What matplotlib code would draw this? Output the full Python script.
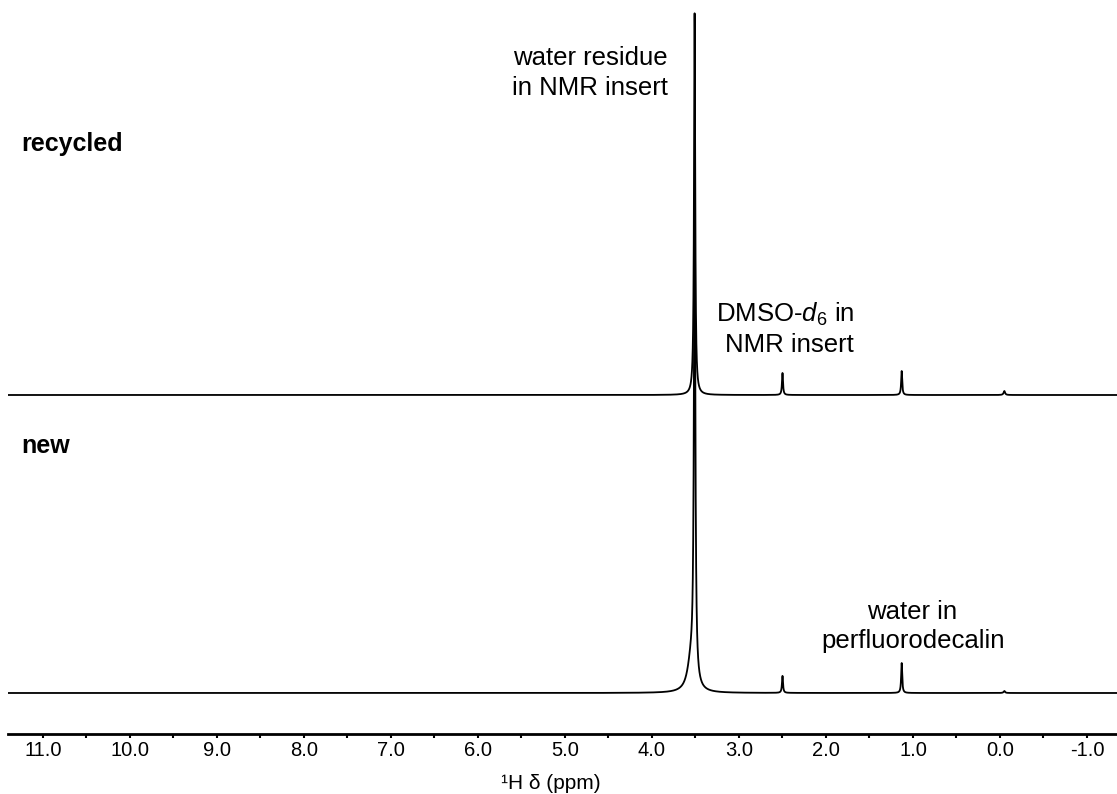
import numpy as np
import matplotlib
matplotlib.use("Agg")
import matplotlib.pyplot as plt

plt.rcParams['font.family'] = ['Liberation Sans', 'DejaVu Sans']
plt.rcParams['mathtext.fontset'] = 'custom'
plt.rcParams['mathtext.rm'] = 'Liberation Sans'
plt.rcParams['mathtext.it'] = 'Liberation Sans:italic'
plt.rcParams['mathtext.bf'] = 'Liberation Sans:bold'

# ---- data (peak lists) ----
spectrum_names = ["recycled", "new"]
recycled_offset = 339
new_offset = 41

recycled_ppm = [3.51, 2.50, 1.13, -0.05]
recycled_height = [382, 22, 24, 4]
recycled_hwhm = [0.008, 0.007, 0.007, 0.01]

new_ppm = [3.51, 3.55, 2.50, 1.13, -0.05]
new_height = [470, 30, 17, 30, 2]
new_hwhm = [0.010, 0.05, 0.007, 0.007, 0.01]

tick_major = [11.0, 10.0, 9.0, 8.0, 7.0, 6.0, 5.0, 4.0, 3.0, 2.0, 1.0, 0.0, -1.0]
x_label = "\u00b9H \u03b4 (ppm)"

annot_water_residue = ["water residue", "in NMR insert"]
annot_dmso = ["DMSO-$d_6$ in", "NMR insert"]
annot_water_pfd = ["water in", "perfluorodecalin"]

# ---- build spectra ----
ppm = np.linspace(11.45, -1.4, 20000)


def spectrum(pos, h, w, off):
    y = np.zeros_like(ppm)
    for p, a, g in zip(pos, h, w):
        y += a * g ** 2 / ((ppm - p) ** 2 + g ** 2)
    return y + off


y_rec = spectrum(recycled_ppm, recycled_height, recycled_hwhm, recycled_offset)
y_new = spectrum(new_ppm, new_height, new_hwhm, new_offset)

W, H = 1117, 794
AX_BOT_PX = 734
fig = plt.figure(figsize=(W / 100, H / 100), dpi=100)
ax = fig.add_axes([8 / W, (H - AX_BOT_PX) / H, 1109 / W, AX_BOT_PX / H])

ax.plot(ppm, y_new, color='black', lw=1.3, solid_joinstyle='round')
ax.plot(ppm, y_rec, color='black', lw=1.3, solid_joinstyle='round')

ax.set_xlim(11.402, -1.345)
ax.set_ylim(0, AX_BOT_PX)

for s in ['top', 'left', 'right']:
    ax.spines[s].set_visible(False)
ax.spines['bottom'].set_linewidth(2.0)
ax.set_yticks([])
ax.set_xticks(tick_major)
ax.set_xticklabels([f"{t:.1f}" for t in tick_major])
ax.set_xticks(np.arange(-1.0, 11.01, 0.5), minor=True)
ax.tick_params(axis='x', which='both', direction='out', length=3, width=1.5,
               labelsize=14.5, pad=2)
ax.set_xlabel(x_label, fontsize=15)
ax.xaxis.set_label_coords((551 - 8) / 1109, -(774 - AX_BOT_PX) / AX_BOT_PX)


def px2ppm(px):
    return 11.0 - (px - 43) / 87.0


def py2y(py):
    return AX_BOT_PX - py


fs = 18.5
ax.text(px2ppm(21), py2y(151), spectrum_names[0], fontsize=18, fontweight='bold',
        ha='left', va='baseline')
ax.text(px2ppm(21), py2y(453), spectrum_names[1], fontsize=18, fontweight='bold',
        ha='left', va='baseline')

ax.text(px2ppm(590), py2y(65), annot_water_residue[0], fontsize=fs, ha='center', va='baseline')
ax.text(px2ppm(590), py2y(95), annot_water_residue[1], fontsize=fs, ha='center', va='baseline')

ax.text(px2ppm(854), py2y(322), annot_dmso[0], fontsize=fs, ha='right', va='baseline')
ax.text(px2ppm(854), py2y(352), annot_dmso[1], fontsize=fs, ha='right', va='baseline')

ax.text(px2ppm(912), py2y(619), annot_water_pfd[0], fontsize=fs, ha='center', va='baseline')
ax.text(px2ppm(913), py2y(648), annot_water_pfd[1], fontsize=fs, ha='center', va='baseline')

fig.savefig("out.png", dpi=100)
